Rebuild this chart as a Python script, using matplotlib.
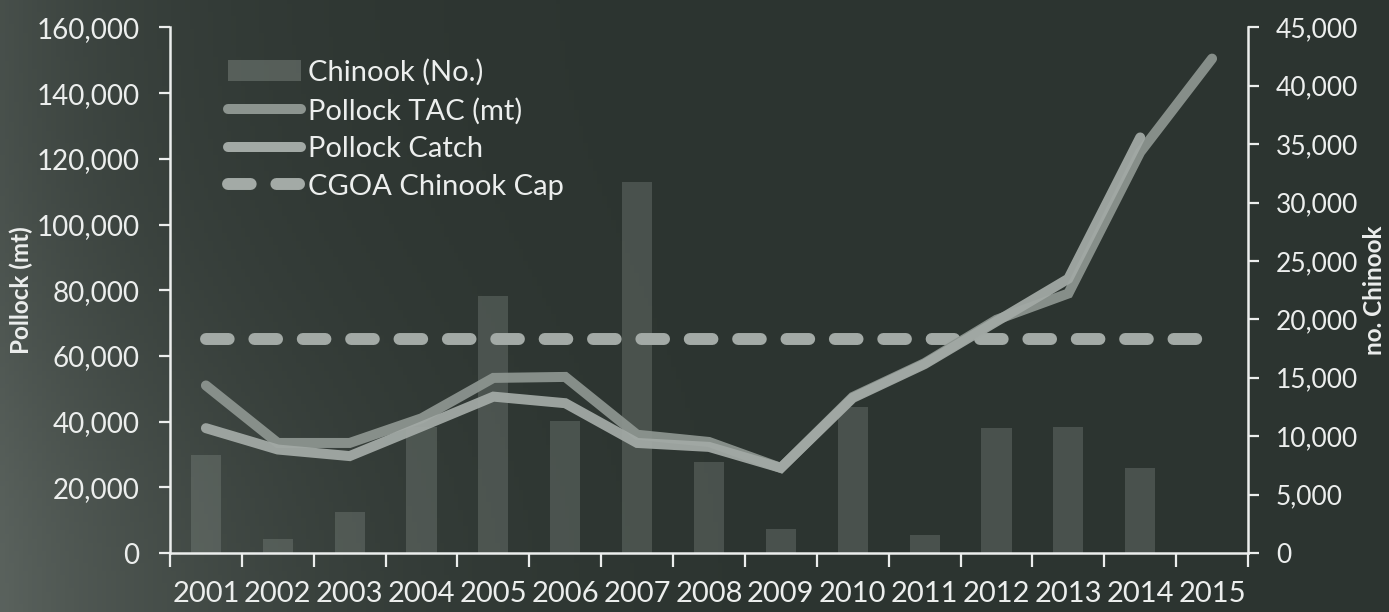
import numpy as np
import matplotlib
matplotlib.use("Agg")
import matplotlib.pyplot as plt
from matplotlib.lines import Line2D
from matplotlib.patches import Patch

years = ["2001", "2002", "2003", "2004", "2005", "2006", "2007", "2008",
         "2009", "2010", "2011", "2012", "2013", "2014", "2015"]
chinook = [8400, 1200, 3500, 10800, 22000, 11300, 31800, 7800,
           2050, 12500, 1500, 10700, 10800, 7300, np.nan]
pollock_tac = [51000, 33500, 33500, 41000, 53300, 53600, 36000, 33800,
               25900, 47500, 57800, 71000, 79000, 122000, 150500]
pollock_catch = [38000, 31500, 29500, 38500, 47600, 45600, 33500, 32300,
                 25900, 47200, 57500, 70500, 83500, 126500, np.nan]
chinook_cap = [18316] * len(years)

plt.rcParams['font.family'] = ['Lato', 'DejaVu Sans']
TXT = '#eceeed'

fig = plt.figure(figsize=(13.89, 6.12), dpi=100)
fig.patch.set_facecolor('#303834')

# background shading (photo-like vignette)
bg = fig.add_axes([0, 0, 1, 1], zorder=-10)
gx = np.linspace(0, 1, 300)
gy = np.linspace(0, 1, 150)
X, Y = np.meshgrid(gx, gy)
shade = 0.5 * np.exp(-X / 0.12) + 0.35 * np.exp(-(X ** 2) / 0.08 - (Y ** 2) / 0.25)
base = np.array([0x2c, 0x34, 0x30]) / 255.0
light = np.array([0x62, 0x6a, 0x65]) / 255.0
img = base[None, None, :] + shade[..., None] * (light - base)[None, None, :]
bg.imshow(np.clip(img, 0, 1), aspect='auto', extent=[0, 1, 0, 1], origin='lower')
bg.set_axis_off()

ax = fig.add_axes([170 / 1389, 1 - 553 / 612, 1078 / 1389, 525.6 / 612])
ax2 = ax.twinx()
ax.set_zorder(ax2.get_zorder() + 1)
ax.patch.set_visible(False)
ax2.patch.set_visible(False)

BAR_C = '#8e9791'
BAR_A = 0.3
x = np.arange(len(years))
ax2.bar(x, chinook, width=0.42, color=BAR_C, alpha=BAR_A, zorder=1)
ax2.plot(x, chinook_cap, color='#a3aaa6', lw=8.6, dashes=(1.9, 2.15),
         dash_capstyle='round', solid_capstyle='round', zorder=2)

ax.plot(x, pollock_tac, color='#8c948f', lw=7.2, solid_capstyle='round',
        solid_joinstyle='miter', alpha=0.95)
ax.plot(x, pollock_catch, color='#a2a9a5', lw=7.2, solid_capstyle='round',
        solid_joinstyle='miter', alpha=0.95)

ax.set_xlim(-0.5, len(years) - 0.5)
ax.set_ylim(0, 160000)
ax2.set_ylim(0, 45000)

ax.set_yticks(np.arange(0, 160001, 20000))
ax.set_yticklabels([f"{v:,}" for v in range(0, 160001, 20000)])
ax2.set_yticks(np.arange(0, 45001, 5000))
ax2.set_yticklabels([f"{v:,}" for v in range(0, 45001, 5000)])

ax.set_xticks(x)
ax.set_xticklabels(years)
ax.set_xticks(np.arange(-0.5, len(years), 1), minor=True)
ax.tick_params(axis='x', which='major', length=0, pad=20, labelsize=21, colors=TXT)
ax.tick_params(axis='x', which='minor', length=10, width=1.6, color=TXT, direction='out')
ax.tick_params(axis='y', length=8, width=1.6, colors=TXT, labelsize=20, pad=14, direction='out')
ax2.tick_params(axis='y', length=8, width=1.6, colors=TXT, labelsize=19, pad=12, direction='out')

for a in (ax, ax2):
    a.spines['top'].set_visible(False)
    for s in ('left', 'right', 'bottom'):
        a.spines[s].set_color(TXT)
        a.spines[s].set_linewidth(1.8)
ax.spines['right'].set_visible(False)
ax2.spines['left'].set_visible(False)
ax2.spines['bottom'].set_visible(False)

fig.text(21 / 1389, 1 - 290 / 612, "Pollock (mt)", color=TXT, fontsize=17.5,
         fontweight='bold', rotation=90, ha='center', va='center')
fig.text(1374 / 1389, 1 - 290 / 612, "no. Chinook", color=TXT, fontsize=17.5,
         fontweight='bold', rotation=90, ha='center', va='center')

handles = [
    Patch(facecolor=BAR_C, alpha=BAR_A + 0.1, edgecolor='none'),
    Line2D([], [], color='#8c948f', lw=7.2, solid_capstyle='round'),
    Line2D([], [], color='#a2a9a5', lw=7.2, solid_capstyle='round'),
    Line2D([], [], color='#a3aaa6', lw=8.6, dashes=(1.9, 2.15), dash_capstyle='round'),
]
labels = ["Chinook (No.)", "Pollock TAC (mt)", "Pollock Catch", "CGOA Chinook Cap"]
leg = ax.legend(handles, labels, loc='upper left', bbox_to_anchor=(0.054, 0.94),
                frameon=False, fontsize=21, handlelength=2.5, handletextpad=0.25,
                labelspacing=0.4, borderpad=0, borderaxespad=0)
for t in leg.get_texts():
    t.set_color(TXT)

fig.savefig("out.png", dpi=100, facecolor=fig.get_facecolor())
